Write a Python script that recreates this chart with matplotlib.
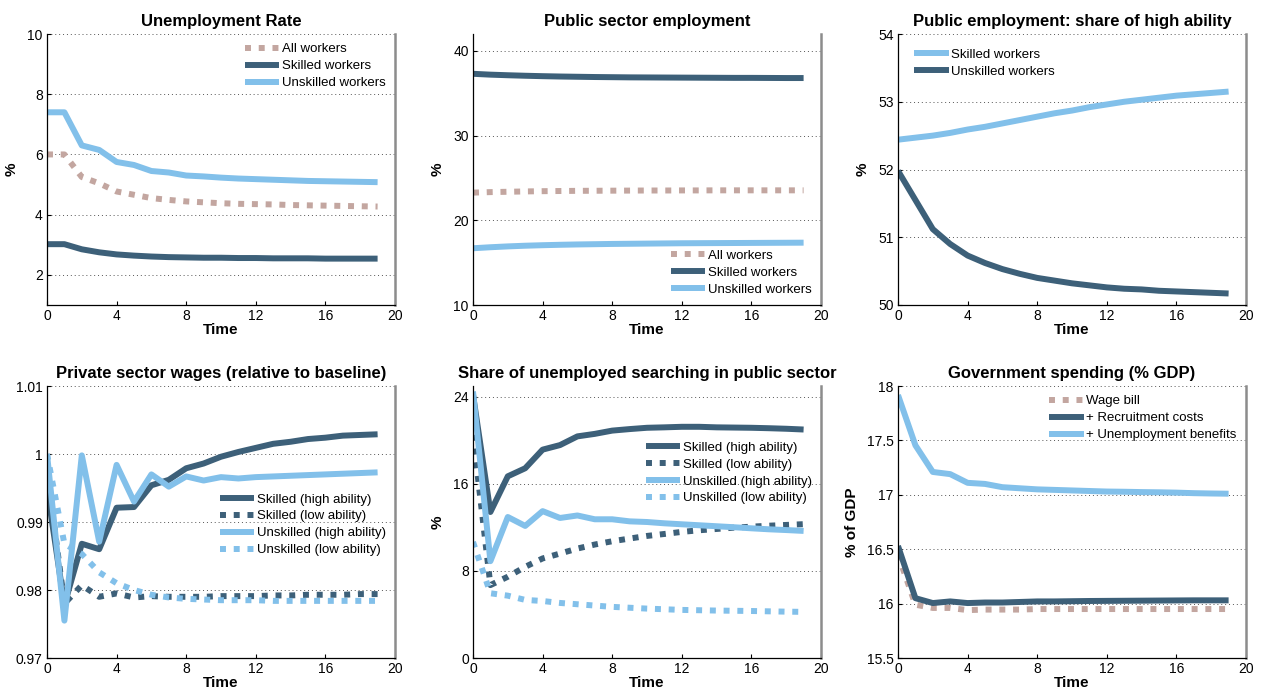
import numpy as np
import matplotlib
matplotlib.use('Agg')
from matplotlib import pyplot as plt
from matplotlib.ticker import FixedLocator, FormatStrFormatter


time = np.arange(20)

# Unemployment rate (%)
unemp_all = [6.0, 6.0, 5.25, 5.04, 4.77, 4.66, 4.55, 4.49, 4.44, 4.41,
             4.38, 4.36, 4.35, 4.34, 4.32, 4.31, 4.30, 4.29, 4.28, 4.27]
unemp_skilled = [3.02, 3.02, 2.85, 2.75, 2.68, 2.64, 2.61, 2.59, 2.58, 2.57,
                 2.57, 2.56, 2.56, 2.55, 2.55, 2.55, 2.54, 2.54, 2.54, 2.54]
unemp_unskilled = [7.4, 7.4, 6.3, 6.15, 5.75, 5.65, 5.45, 5.4, 5.3, 5.27,
                   5.23, 5.2, 5.18, 5.16, 5.14, 5.12, 5.11, 5.1, 5.09, 5.08]

# Public sector employment (%)
pub_all = [23.27, 23.33, 23.37, 23.41, 23.44, 23.46, 23.48, 23.49, 23.50, 23.51,
           23.52, 23.52, 23.53, 23.53, 23.54, 23.54, 23.54, 23.54, 23.54, 23.54]
pub_skilled = [37.3, 37.2, 37.13, 37.07, 37.02, 36.98, 36.95, 36.92, 36.9, 36.88,
               36.87, 36.86, 36.85, 36.84, 36.83, 36.82, 36.82, 36.81, 36.8, 36.8]
pub_unskilled = [16.7, 16.82, 16.92, 17.0, 17.06, 17.11, 17.15, 17.18, 17.21, 17.23,
                 17.25, 17.27, 17.29, 17.3, 17.31, 17.32, 17.33, 17.34, 17.35, 17.36]

# Public employment: share of high ability (%)
share_skilled = [52.44, 52.47, 52.5, 52.54, 52.59, 52.63, 52.68, 52.73, 52.78, 52.83,
                 52.87, 52.92, 52.96, 53.0, 53.03, 53.06, 53.09, 53.11, 53.13, 53.15]
share_unskilled = [51.98, 51.55, 51.12, 50.9, 50.73, 50.62, 50.53, 50.46, 50.4, 50.36,
                   50.32, 50.29, 50.26, 50.24, 50.23, 50.21, 50.2, 50.19, 50.18, 50.17]

# Private sector wages relative to baseline
wage_sk_high = [0.995, 0.9778, 0.9868, 0.9860, 0.9921, 0.9922, 0.9954, 0.9962, 0.9979, 0.9986,
                0.9996, 1.0003, 1.0009, 1.0015, 1.0018, 1.0022, 1.0024, 1.0027, 1.0028, 1.0029]
wage_sk_low = [0.9975, 0.9780, 0.9807, 0.9790, 0.9795, 0.9789, 0.9791, 0.9790, 0.9790, 0.9790,
               0.9791, 0.9791, 0.9791, 0.9792, 0.9792, 0.9793, 0.9793, 0.9793, 0.9794, 0.9794]
wage_unsk_high = [1.0, 0.9755, 0.9998, 0.9871, 0.9984, 0.9930, 0.9970, 0.9952, 0.9967, 0.9961,
                  0.9966, 0.9964, 0.9966, 0.9967, 0.9968, 0.9969, 0.9970, 0.9971, 0.9972, 0.9973]
wage_unsk_low = [1.0, 0.9868, 0.9853, 0.9826, 0.9810, 0.9800, 0.9793, 0.9789, 0.9787, 0.9786,
                 0.9785, 0.9785, 0.9785, 0.9784, 0.9784, 0.9784, 0.9784, 0.9784, 0.9784, 0.9784]

# Share of unemployed searching in public sector (%)
search_sk_high = [24.2, 13.42, 16.7, 17.44, 19.15, 19.57, 20.37, 20.6, 20.9, 21.04,
                  21.16, 21.2, 21.25, 21.25, 21.2, 21.18, 21.16, 21.12, 21.07, 21.0]
search_sk_low = [20.5, 6.7, 7.47, 8.38, 9.15, 9.6, 10.06, 10.43, 10.73, 10.98,
                 11.22, 11.4, 11.59, 11.74, 11.86, 11.98, 12.07, 12.16, 12.23, 12.3]
search_unsk_high = [24.5, 8.9, 12.96, 12.14, 13.5, 12.87, 13.1, 12.75, 12.75, 12.56,
                    12.5, 12.38, 12.29, 12.2, 12.11, 12.02, 11.92, 11.83, 11.76, 11.68]
search_unsk_low = [10.67, 5.95, 5.73, 5.34, 5.24, 5.06, 4.94, 4.82, 4.7, 4.62,
                   4.54, 4.48, 4.42, 4.39, 4.36, 4.34, 4.32, 4.29, 4.26, 4.24]

# Government spending (% GDP)
gov_wage = [16.45, 15.99, 15.96, 15.96, 15.94, 15.945, 15.945, 15.945, 15.95, 15.95,
            15.95, 15.95, 15.95, 15.95, 15.95, 15.95, 15.95, 15.95, 15.95, 15.95]
gov_recruit = [16.53, 16.05, 16.005, 16.02, 16.005, 16.01, 16.01, 16.015, 16.02, 16.02,
               16.022, 16.024, 16.025, 16.026, 16.027, 16.028, 16.029, 16.03, 16.03, 16.03]
gov_benefits = [17.917, 17.455, 17.21, 17.19, 17.11, 17.1, 17.07, 17.06, 17.05, 17.045,
                17.04, 17.035, 17.03, 17.028, 17.025, 17.023, 17.02, 17.015, 17.012, 17.01]

DARK = '#3d6079'
LIGHT = '#82c0ea'
PINK = '#c3a6a0'
LW = 4.3
DOTS = (0, (1.0, 1.3))

plt.rcParams['font.family'] = ['Liberation Sans', 'DejaVu Sans']
plt.rcParams['font.size'] = 9.5


def style_axes(ax, title, ylim, yticks, ylabel='%', fmt=None):
    ax.set_title(title, fontsize=12, fontweight='bold', pad=6)
    ax.set_xlim(0, 20)
    ax.set_ylim(*ylim)
    ax.xaxis.set_major_locator(FixedLocator([0, 4, 8, 12, 16, 20]))
    ax.yaxis.set_major_locator(FixedLocator(yticks))
    if fmt is not None:
        ax.yaxis.set_major_formatter(fmt)
    ax.tick_params(direction='in', length=3, width=0.8, labelsize=10, pad=3)
    ax.grid(axis='y', linestyle=(0, (1, 3)), color='#555555', linewidth=0.7)
    ax.set_axisbelow(True)
    ax.spines['top'].set_visible(False)
    ax.spines['right'].set_color('#8c8c8c')
    ax.spines['right'].set_linewidth(1.8)
    ax.spines['left'].set_linewidth(0.9)
    ax.spines['bottom'].set_linewidth(0.9)
    ax.set_xlabel('Time', fontsize=11, fontweight='bold', labelpad=0)
    ax.set_ylabel(ylabel, fontsize=11, fontweight='bold', labelpad=6)


def add_legend(ax, **kw):
    leg = ax.legend(frameon=False, fontsize=9.5, handlelength=2.6, handletextpad=0.2,
                    labelspacing=0.35, borderaxespad=0.3, **kw)
    for line in leg.get_lines():
        line.set_solid_capstyle('butt')
        line.set_dash_capstyle('butt')
    return leg


def plot_line(ax, y, color, label, dotted=False):
    if dotted:
        ax.plot(time, y, color=color, lw=LW, linestyle=DOTS, label=label,
                dash_capstyle='butt')
    else:
        ax.plot(time, y, color=color, lw=LW, label=label, solid_capstyle='butt')


fig = plt.figure(figsize=(12.61, 6.94), dpi=100)

lefts = [47 / 1261, 473 / 1261, 898 / 1261]
width = 348 / 1261
rows = [(1 - 305 / 694, 271 / 694), (1 - 658 / 694, 272 / 694)]
axes = [[fig.add_axes([l, b, width, h]) for l in lefts] for (b, h) in rows]

# Unemployment rate
ax = axes[0][0]
plot_line(ax, unemp_all, PINK, 'All workers', dotted=True)
plot_line(ax, unemp_skilled, DARK, 'Skilled workers')
plot_line(ax, unemp_unskilled, LIGHT, 'Unskilled workers')
style_axes(ax, 'Unemployment Rate', (1, 10), [2, 4, 6, 8, 10])
add_legend(ax, loc='upper right')

# Public sector employment
ax = axes[0][1]
plot_line(ax, pub_all, PINK, 'All workers', dotted=True)
plot_line(ax, pub_skilled, DARK, 'Skilled workers')
plot_line(ax, pub_unskilled, LIGHT, 'Unskilled workers')
style_axes(ax, 'Public sector employment', (10, 42), [10, 20, 30, 40])
add_legend(ax, loc='lower right')

# Public employment: share of high ability
ax = axes[0][2]
plot_line(ax, share_skilled, LIGHT, 'Skilled workers')
plot_line(ax, share_unskilled, DARK, 'Unskilled workers')
style_axes(ax, 'Public employment: share of high ability', (50, 54), [50, 51, 52, 53, 54])
add_legend(ax, loc='upper left', bbox_to_anchor=(0.02, 0.98))

# Private sector wages
ax = axes[1][0]
plot_line(ax, wage_sk_high, DARK, 'Skilled (high ability)')
plot_line(ax, wage_sk_low, DARK, 'Skilled (low ability)', dotted=True)
plot_line(ax, wage_unsk_high, LIGHT, 'Unskilled (high ability)')
plot_line(ax, wage_unsk_low, LIGHT, 'Unskilled (low ability)', dotted=True)
style_axes(ax, 'Private sector wages (relative to baseline)', (0.97, 1.01),
           [0.97, 0.98, 0.99, 1.0, 1.01], ylabel='', fmt=FormatStrFormatter('%g'))
add_legend(ax, loc='center right', bbox_to_anchor=(1.0, 0.49))

# Share of unemployed searching in public sector
ax = axes[1][1]
plot_line(ax, search_sk_high, DARK, 'Skilled (high ability)')
plot_line(ax, search_sk_low, DARK, 'Skilled (low ability)', dotted=True)
plot_line(ax, search_unsk_high, LIGHT, 'Unskilled (high ability)')
plot_line(ax, search_unsk_low, LIGHT, 'Unskilled (low ability)', dotted=True)
style_axes(ax, 'Share of unemployed searching in public sector', (0, 25), [0, 8, 16, 24])
add_legend(ax, loc='center right', bbox_to_anchor=(1.0, 0.68))

# Government spending
ax = axes[1][2]
plot_line(ax, gov_wage, PINK, 'Wage bill', dotted=True)
plot_line(ax, gov_recruit, DARK, '+ Recruitment costs')
plot_line(ax, gov_benefits, LIGHT, '+ Unemployment benefits')
style_axes(ax, 'Government spending (% GDP)', (15.5, 18), [15.5, 16, 16.5, 17, 17.5, 18],
           ylabel='% of GDP', fmt=FormatStrFormatter('%g'))
add_legend(ax, loc='upper right')

fig.savefig('out.png', dpi=100)
plt.close(fig)
